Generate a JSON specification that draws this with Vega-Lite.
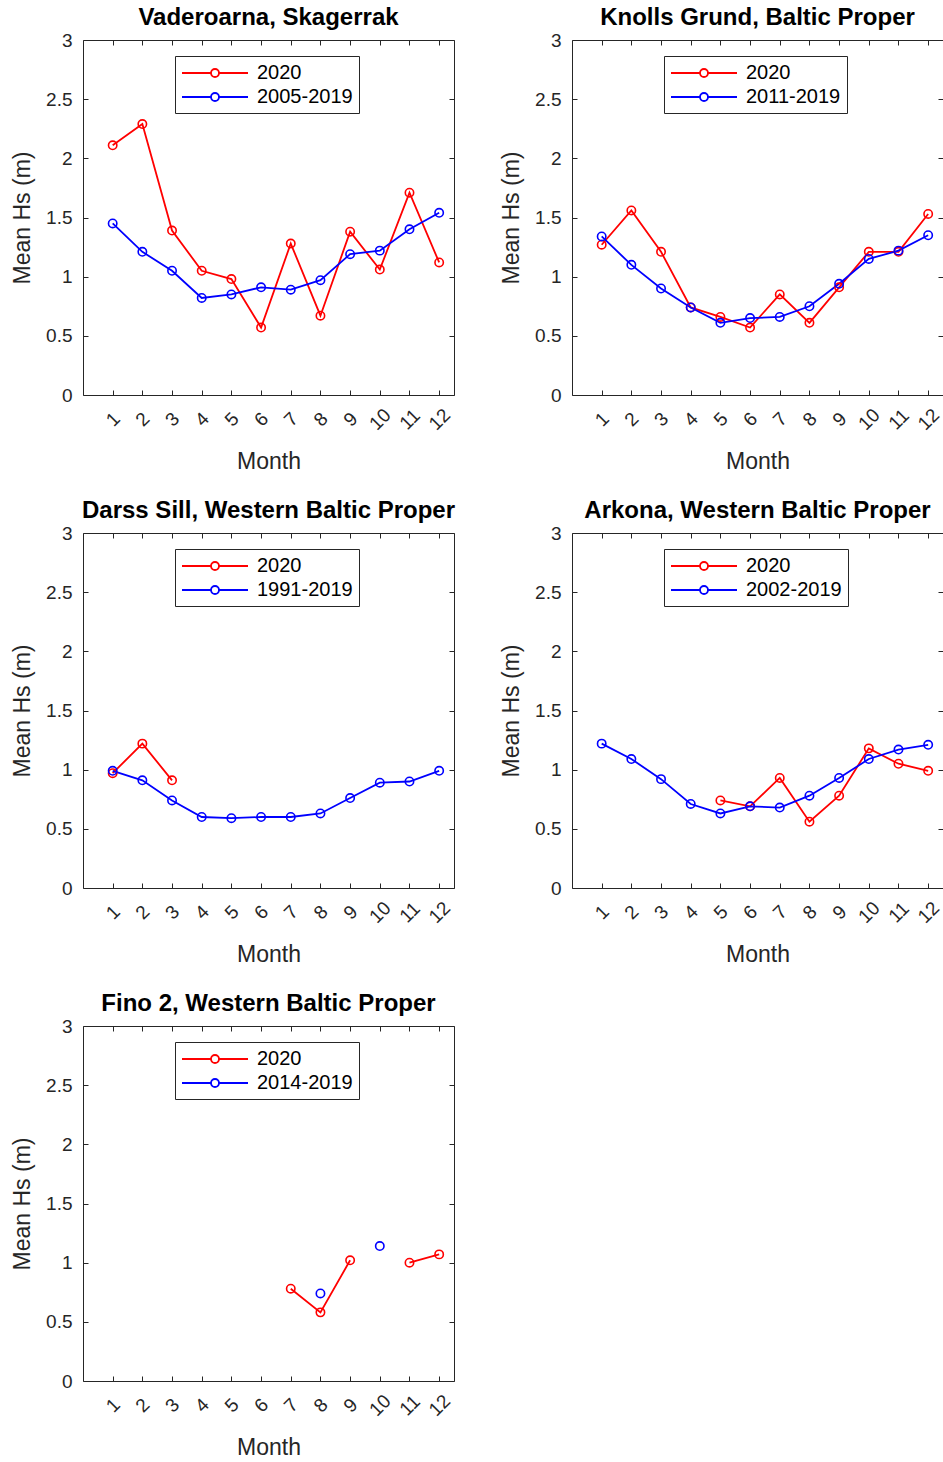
{
  "$schema": "https://vega.github.io/schema/vega-lite/v6.json",
  "background": "white",
  "padding": {"left": 11, "top": 5, "right": 0, "bottom": 0},
  "config": {
    "font": "Liberation Sans",
    "view": {"stroke": "#262626", "strokeWidth": 1},
    "title": {"font": "Liberation Sans", "fontSize": 24, "fontWeight": "bold", "color": "black", "offset": 1, "anchor": "middle"},
    "axis": {
      "grid": false, "domain": false, "tickColor": "#262626", "tickSize": -5, "tickWidth": 1,
      "labelFont": "Liberation Sans", "labelFontSize": 19, "labelColor": "#262626",
      "titleFont": "Liberation Sans", "titleFontSize": 23, "titleFontWeight": "normal", "titleColor": "#262626",
      "labelOverlap": false, "labelFlush": false
    },
    "axisBottom": {"labelAngle": -45, "labelAlign": "center", "labelBaseline": "middle", "labelPadding": 29, "titlePadding": 17},
    "axisLeft": {"labelPadding": 16, "titlePadding": 11},
    "legend": {
      "orient": "none", "legendX": 92, "legendY": 16, "title": null,
      "symbolType": "M-3.3,0L-0.4,0M0.4,0L3.3,0M0.4,0A0.4,0.4,0,1,1,-0.4,0A0.4,0.4,0,1,1,0.4,0",
      "symbolSize": 400, "symbolStrokeWidth": 1.8, "symbolFillColor": "transparent", "symbolOffset": 23,
      "labelFont": "Liberation Sans", "labelFontSize": 20, "labelColor": "black", "labelOffset": 31,
      "strokeColor": "#262626", "fillColor": "white", "padding": 6, "rowPadding": 3
    },
    "line": {"strokeWidth": 1.8},
    "point": {"shape": "circle", "filled": false, "size": 70, "strokeWidth": 1.6, "opacity": 1}
  },
  "datasets": {
    "hs": [
      {"station": "V", "series": "2020", "month": 1, "hs": 2.11},
      {"station": "V", "series": "2020", "month": 2, "hs": 2.29},
      {"station": "V", "series": "2020", "month": 3, "hs": 1.39},
      {"station": "V", "series": "2020", "month": 4, "hs": 1.05},
      {"station": "V", "series": "2020", "month": 5, "hs": 0.98},
      {"station": "V", "series": "2020", "month": 6, "hs": 0.57},
      {"station": "V", "series": "2020", "month": 7, "hs": 1.28},
      {"station": "V", "series": "2020", "month": 8, "hs": 0.67},
      {"station": "V", "series": "2020", "month": 9, "hs": 1.38},
      {"station": "V", "series": "2020", "month": 10, "hs": 1.06},
      {"station": "V", "series": "2020", "month": 11, "hs": 1.71},
      {"station": "V", "series": "2020", "month": 12, "hs": 1.12},
      {"station": "V", "series": "2005-2019", "month": 1, "hs": 1.45},
      {"station": "V", "series": "2005-2019", "month": 2, "hs": 1.21},
      {"station": "V", "series": "2005-2019", "month": 3, "hs": 1.05},
      {"station": "V", "series": "2005-2019", "month": 4, "hs": 0.82},
      {"station": "V", "series": "2005-2019", "month": 5, "hs": 0.85},
      {"station": "V", "series": "2005-2019", "month": 6, "hs": 0.91},
      {"station": "V", "series": "2005-2019", "month": 7, "hs": 0.89},
      {"station": "V", "series": "2005-2019", "month": 8, "hs": 0.97},
      {"station": "V", "series": "2005-2019", "month": 9, "hs": 1.19},
      {"station": "V", "series": "2005-2019", "month": 10, "hs": 1.22},
      {"station": "V", "series": "2005-2019", "month": 11, "hs": 1.40},
      {"station": "V", "series": "2005-2019", "month": 12, "hs": 1.54},
      {"station": "K", "series": "2020", "month": 1, "hs": 1.27},
      {"station": "K", "series": "2020", "month": 2, "hs": 1.56},
      {"station": "K", "series": "2020", "month": 3, "hs": 1.21},
      {"station": "K", "series": "2020", "month": 4, "hs": 0.74},
      {"station": "K", "series": "2020", "month": 5, "hs": 0.66},
      {"station": "K", "series": "2020", "month": 6, "hs": 0.57},
      {"station": "K", "series": "2020", "month": 7, "hs": 0.85},
      {"station": "K", "series": "2020", "month": 8, "hs": 0.61},
      {"station": "K", "series": "2020", "month": 9, "hs": 0.91},
      {"station": "K", "series": "2020", "month": 10, "hs": 1.21},
      {"station": "K", "series": "2020", "month": 11, "hs": 1.21},
      {"station": "K", "series": "2020", "month": 12, "hs": 1.53},
      {"station": "K", "series": "2011-2019", "month": 1, "hs": 1.34},
      {"station": "K", "series": "2011-2019", "month": 2, "hs": 1.10},
      {"station": "K", "series": "2011-2019", "month": 3, "hs": 0.90},
      {"station": "K", "series": "2011-2019", "month": 4, "hs": 0.74},
      {"station": "K", "series": "2011-2019", "month": 5, "hs": 0.61},
      {"station": "K", "series": "2011-2019", "month": 6, "hs": 0.65},
      {"station": "K", "series": "2011-2019", "month": 7, "hs": 0.66},
      {"station": "K", "series": "2011-2019", "month": 8, "hs": 0.75},
      {"station": "K", "series": "2011-2019", "month": 9, "hs": 0.94},
      {"station": "K", "series": "2011-2019", "month": 10, "hs": 1.15},
      {"station": "K", "series": "2011-2019", "month": 11, "hs": 1.22},
      {"station": "K", "series": "2011-2019", "month": 12, "hs": 1.35},
      {"station": "D", "series": "2020", "month": 1, "hs": 0.97},
      {"station": "D", "series": "2020", "month": 2, "hs": 1.22},
      {"station": "D", "series": "2020", "month": 3, "hs": 0.91},
      {"station": "D", "series": "1991-2019", "month": 1, "hs": 0.99},
      {"station": "D", "series": "1991-2019", "month": 2, "hs": 0.91},
      {"station": "D", "series": "1991-2019", "month": 3, "hs": 0.74},
      {"station": "D", "series": "1991-2019", "month": 4, "hs": 0.60},
      {"station": "D", "series": "1991-2019", "month": 5, "hs": 0.59},
      {"station": "D", "series": "1991-2019", "month": 6, "hs": 0.60},
      {"station": "D", "series": "1991-2019", "month": 7, "hs": 0.60},
      {"station": "D", "series": "1991-2019", "month": 8, "hs": 0.63},
      {"station": "D", "series": "1991-2019", "month": 9, "hs": 0.76},
      {"station": "D", "series": "1991-2019", "month": 10, "hs": 0.89},
      {"station": "D", "series": "1991-2019", "month": 11, "hs": 0.90},
      {"station": "D", "series": "1991-2019", "month": 12, "hs": 0.99},
      {"station": "A", "series": "2020", "month": 5, "hs": 0.74},
      {"station": "A", "series": "2020", "month": 6, "hs": 0.69},
      {"station": "A", "series": "2020", "month": 7, "hs": 0.93},
      {"station": "A", "series": "2020", "month": 8, "hs": 0.56},
      {"station": "A", "series": "2020", "month": 9, "hs": 0.78},
      {"station": "A", "series": "2020", "month": 10, "hs": 1.18},
      {"station": "A", "series": "2020", "month": 11, "hs": 1.05},
      {"station": "A", "series": "2020", "month": 12, "hs": 0.99},
      {"station": "A", "series": "2002-2019", "month": 1, "hs": 1.22},
      {"station": "A", "series": "2002-2019", "month": 2, "hs": 1.09},
      {"station": "A", "series": "2002-2019", "month": 3, "hs": 0.92},
      {"station": "A", "series": "2002-2019", "month": 4, "hs": 0.71},
      {"station": "A", "series": "2002-2019", "month": 5, "hs": 0.63},
      {"station": "A", "series": "2002-2019", "month": 6, "hs": 0.69},
      {"station": "A", "series": "2002-2019", "month": 7, "hs": 0.68},
      {"station": "A", "series": "2002-2019", "month": 8, "hs": 0.78},
      {"station": "A", "series": "2002-2019", "month": 9, "hs": 0.93},
      {"station": "A", "series": "2002-2019", "month": 10, "hs": 1.09},
      {"station": "A", "series": "2002-2019", "month": 11, "hs": 1.17},
      {"station": "A", "series": "2002-2019", "month": 12, "hs": 1.21},
      {"station": "F", "series": "2020", "month": 7, "hs": 0.78},
      {"station": "F", "series": "2020", "month": 8, "hs": 0.58},
      {"station": "F", "series": "2020", "month": 9, "hs": 1.02},
      {"station": "F", "series": "2020", "month": 10, "hs": null},
      {"station": "F", "series": "2020", "month": 11, "hs": 1.00},
      {"station": "F", "series": "2020", "month": 12, "hs": 1.07},
      {"station": "F", "series": "2014-2019", "month": 8, "hs": 0.74},
      {"station": "F", "series": "2014-2019", "month": 9, "hs": null},
      {"station": "F", "series": "2014-2019", "month": 10, "hs": 1.14}
    ]
  },
  "columns": 2,
  "bounds": "flush",
  "spacing": {"row": 138, "column": 118},
  "resolve": {"scale": {"color": "independent"}, "legend": {"color": "independent"}},
  "concat": [
    {
      "title": "Vaderoarna, Skagerrak",
      "width": 371, "height": 355,
      "data": {"name": "hs"},
      "transform": [{"filter": "datum.station === 'V'"}],
      "encoding": {
        "color": {"field": "series", "type": "nominal", "sort": null, "scale": {"domain": ["2020", "2005-2019"], "range": ["#ff0000", "#0000ff"]}}
      },
      "layer": [
        {"mark": {"type": "line", "invalid": "break-paths-show-domains"},
         "encoding": {
           "x": {"field": "month", "type": "quantitative", "scale": {"domain": [0, 12.5], "nice": false, "zero": false}, "axis": {"orient": "bottom", "values": [1,2,3,4,5,6,7,8,9,10,11,12], "title": "Month"}},
           "y": {"field": "hs", "type": "quantitative", "scale": {"domain": [0, 3], "nice": false}, "axis": {"orient": "left", "values": [0,0.5,1,1.5,2,2.5,3], "labelExpr": "'' + datum.value", "title": "Mean Hs (m)"}}
         }},
        {"mark": {"type": "point"},
         "encoding": {
           "x": {"field": "month", "type": "quantitative", "axis": {"orient": "top", "values": [1,2,3,4,5,6,7,8,9,10,11,12], "labels": false, "title": null}},
           "y": {"field": "hs", "type": "quantitative", "axis": {"orient": "right", "values": [0,0.5,1,1.5,2,2.5,3], "labels": false, "title": null}}
         }}
      ],
      "resolve": {"axis": {"x": "independent", "y": "independent"}}
    },
    {
      "title": "Knolls Grund, Baltic Proper",
      "width": 371, "height": 355,
      "data": {"name": "hs"},
      "transform": [{"filter": "datum.station === 'K'"}],
      "encoding": {
        "color": {"field": "series", "type": "nominal", "sort": null, "scale": {"domain": ["2020", "2011-2019"], "range": ["#ff0000", "#0000ff"]}}
      },
      "layer": [
        {"mark": {"type": "line", "invalid": "break-paths-show-domains"},
         "encoding": {
           "x": {"field": "month", "type": "quantitative", "scale": {"domain": [0, 12.5], "nice": false, "zero": false}, "axis": {"orient": "bottom", "values": [1,2,3,4,5,6,7,8,9,10,11,12], "title": "Month"}},
           "y": {"field": "hs", "type": "quantitative", "scale": {"domain": [0, 3], "nice": false}, "axis": {"orient": "left", "values": [0,0.5,1,1.5,2,2.5,3], "labelExpr": "'' + datum.value", "title": "Mean Hs (m)"}}
         }},
        {"mark": {"type": "point"},
         "encoding": {
           "x": {"field": "month", "type": "quantitative", "axis": {"orient": "top", "values": [1,2,3,4,5,6,7,8,9,10,11,12], "labels": false, "title": null}},
           "y": {"field": "hs", "type": "quantitative", "axis": {"orient": "right", "values": [0,0.5,1,1.5,2,2.5,3], "labels": false, "title": null}}
         }}
      ],
      "resolve": {"axis": {"x": "independent", "y": "independent"}}
    },
    {
      "title": "Darss Sill, Western Baltic Proper",
      "width": 371, "height": 355,
      "data": {"name": "hs"},
      "transform": [{"filter": "datum.station === 'D'"}],
      "encoding": {
        "color": {"field": "series", "type": "nominal", "sort": null, "scale": {"domain": ["2020", "1991-2019"], "range": ["#ff0000", "#0000ff"]}}
      },
      "layer": [
        {"mark": {"type": "line", "invalid": "break-paths-show-domains"},
         "encoding": {
           "x": {"field": "month", "type": "quantitative", "scale": {"domain": [0, 12.5], "nice": false, "zero": false}, "axis": {"orient": "bottom", "values": [1,2,3,4,5,6,7,8,9,10,11,12], "title": "Month"}},
           "y": {"field": "hs", "type": "quantitative", "scale": {"domain": [0, 3], "nice": false}, "axis": {"orient": "left", "values": [0,0.5,1,1.5,2,2.5,3], "labelExpr": "'' + datum.value", "title": "Mean Hs (m)"}}
         }},
        {"mark": {"type": "point"},
         "encoding": {
           "x": {"field": "month", "type": "quantitative", "axis": {"orient": "top", "values": [1,2,3,4,5,6,7,8,9,10,11,12], "labels": false, "title": null}},
           "y": {"field": "hs", "type": "quantitative", "axis": {"orient": "right", "values": [0,0.5,1,1.5,2,2.5,3], "labels": false, "title": null}}
         }}
      ],
      "resolve": {"axis": {"x": "independent", "y": "independent"}}
    },
    {
      "title": "Arkona, Western Baltic Proper",
      "width": 371, "height": 355,
      "data": {"name": "hs"},
      "transform": [{"filter": "datum.station === 'A'"}],
      "encoding": {
        "color": {"field": "series", "type": "nominal", "sort": null, "scale": {"domain": ["2020", "2002-2019"], "range": ["#ff0000", "#0000ff"]}}
      },
      "layer": [
        {"mark": {"type": "line", "invalid": "break-paths-show-domains"},
         "encoding": {
           "x": {"field": "month", "type": "quantitative", "scale": {"domain": [0, 12.5], "nice": false, "zero": false}, "axis": {"orient": "bottom", "values": [1,2,3,4,5,6,7,8,9,10,11,12], "title": "Month"}},
           "y": {"field": "hs", "type": "quantitative", "scale": {"domain": [0, 3], "nice": false}, "axis": {"orient": "left", "values": [0,0.5,1,1.5,2,2.5,3], "labelExpr": "'' + datum.value", "title": "Mean Hs (m)"}}
         }},
        {"mark": {"type": "point"},
         "encoding": {
           "x": {"field": "month", "type": "quantitative", "axis": {"orient": "top", "values": [1,2,3,4,5,6,7,8,9,10,11,12], "labels": false, "title": null}},
           "y": {"field": "hs", "type": "quantitative", "axis": {"orient": "right", "values": [0,0.5,1,1.5,2,2.5,3], "labels": false, "title": null}}
         }}
      ],
      "resolve": {"axis": {"x": "independent", "y": "independent"}}
    },
    {
      "title": "Fino 2, Western Baltic Proper",
      "width": 371, "height": 355,
      "data": {"name": "hs"},
      "transform": [{"filter": "datum.station === 'F'"}],
      "encoding": {
        "color": {"field": "series", "type": "nominal", "sort": null, "scale": {"domain": ["2020", "2014-2019"], "range": ["#ff0000", "#0000ff"]}}
      },
      "layer": [
        {"mark": {"type": "line", "invalid": "break-paths-show-domains"},
         "encoding": {
           "x": {"field": "month", "type": "quantitative", "scale": {"domain": [0, 12.5], "nice": false, "zero": false}, "axis": {"orient": "bottom", "values": [1,2,3,4,5,6,7,8,9,10,11,12], "title": "Month"}},
           "y": {"field": "hs", "type": "quantitative", "scale": {"domain": [0, 3], "nice": false}, "axis": {"orient": "left", "values": [0,0.5,1,1.5,2,2.5,3], "labelExpr": "'' + datum.value", "title": "Mean Hs (m)"}}
         }},
        {"mark": {"type": "point"},
         "encoding": {
           "x": {"field": "month", "type": "quantitative", "axis": {"orient": "top", "values": [1,2,3,4,5,6,7,8,9,10,11,12], "labels": false, "title": null}},
           "y": {"field": "hs", "type": "quantitative", "axis": {"orient": "right", "values": [0,0.5,1,1.5,2,2.5,3], "labels": false, "title": null}}
         }}
      ],
      "resolve": {"axis": {"x": "independent", "y": "independent"}}
    }
  ]
}
